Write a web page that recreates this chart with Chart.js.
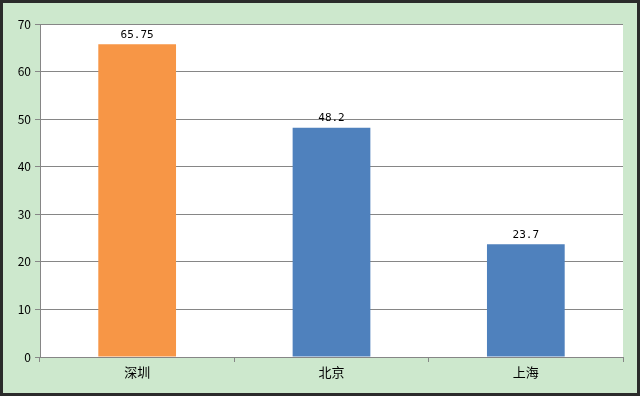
<!DOCTYPE html>
<html>
<head>
<meta charset="utf-8">
<script src="https://cdn.jsdelivr.net/npm/chart.js@4"></script>
<style>
  html, body { margin: 0; padding: 0; background: #fff; }
  #wrap { width: 640px; height: 396px; }
</style>
</head>
<body>
<div id="wrap"><canvas id="myChart" width="640" height="396"></canvas></div>
<script>
// chart data
var cities = ['深圳', '北京', '上海'];
var values = [65.75, 48.2, 23.7];
var barColors = ['#F79646', '#4F81BD', '#4F81BD'];
var yTicks = [0, 10, 20, 30, 40, 50, 60, 70];

var axisGray = '#868686';
var font = { family: '"Noto Sans CJK SC", "DejaVu Sans", sans-serif', size: 12 };

// green backdrop with dark frame
var frame = {
  id: 'frame',
  beforeDraw: function (chart) {
    var c = chart.ctx;
    c.save();
    c.fillStyle = '#CDE8CD';
    c.fillRect(0, 0, chart.width, chart.height);
    var a = chart.chartArea;
    c.fillStyle = '#ffffff';
    c.fillRect(a.left, a.top, a.right - a.left, a.bottom - a.top);
    c.strokeStyle = '#2b2b2b';
    c.lineWidth = 3;
    c.strokeRect(1.5, 1.5, chart.width - 3, chart.height - 3);
    c.restore();
  }
};

// value labels above each bar
var valueLabels = {
  id: 'valueLabels',
  afterDatasetsDraw: function (chart) {
    var c = chart.ctx;
    var meta = chart.getDatasetMeta(0);
    c.save();
    c.font = '11px "DejaVu Sans Mono", monospace';
    c.fillStyle = '#000';
    c.textAlign = 'center';
    c.textBaseline = 'bottom';
    meta.data.forEach(function (bar, i) {
      c.fillText(String(values[i]), bar.x, bar.y - 4);
    });
    c.restore();
  }
};

var ctx = document.getElementById('myChart').getContext('2d');
var myChart = new Chart(ctx, {
  type: 'bar',
  data: {
    labels: cities,
    datasets: [{
      data: values,
      backgroundColor: barColors,
      borderWidth: 0,
      categoryPercentage: 1,
      barPercentage: 0.4
    }]
  },
  options: {
    responsive: false,
    animation: false,
    layout: { padding: { top: 24, right: 17, bottom: 0, left: 0 } },
    plugins: {
      legend: { display: false },
      tooltip: { enabled: false }
    },
    scales: {
      x: {
        offset: true,
        grid: { offset: true, drawOnChartArea: false, drawTicks: true, tickLength: 5, color: axisGray },
        border: { color: axisGray },
        ticks: { color: '#000', font: { family: font.family, size: 13 }, padding: 2 },
        afterFit: function (s) { s.height = 39; }
      },
      y: {
        min: 0,
        max: 70,
        afterBuildTicks: function (s) { s.ticks = yTicks.map(function (v) { return { value: v }; }); },
        grid: { color: axisGray, tickLength: 5 },
        border: { color: axisGray },
        ticks: { color: '#000', font: font, padding: 4 },
        afterFit: function (s) { s.width = 40; }
      }
    }
  },
  plugins: [frame, valueLabels]
});
</script>
</body>
</html>
